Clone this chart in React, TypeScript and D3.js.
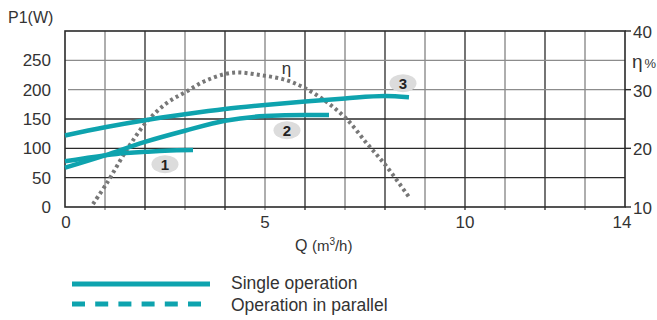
import React from 'react'
import * as d3 from 'd3'

// tick labels
const qTicks = [0, 5, 10, 14]
const pTicks = [0, 50, 100, 150, 200, 250]
const etaTicks = [10, 20, 30, 40]

// power curves P1 (W) against Q (m3/h)
const curve1Q = [0, 0.5, 1, 1.5, 2, 2.5, 3.2]
const curve1P = [78, 83, 88, 92, 94, 96, 97]
const curve2Q = [0, 1, 2, 3, 4, 5, 6, 6.6]
const curve2P = [67, 88, 111, 130, 147, 155, 157, 157]
const curve3Q = [0, 1, 2, 3, 4, 5, 6, 7, 8, 8.6]
const curve3P = [122, 136, 148, 158, 167, 174, 180, 185, 189, 187]

// efficiency curve (%)
const etaQ = [0.7, 1.04, 1.54, 2.04, 2.54, 3.04, 3.54, 4.2, 4.875, 5.54, 6.04, 6.54, 7.04, 7.54, 8.04, 8.6]
const etaV = [10.5, 14, 19.7, 24.5, 27.7, 29.7, 31.6, 32.9, 32.5, 31.6, 30.1, 27.9, 25, 20.9, 16.9, 11.7]

// curve number badges
const badgeNames = ['1', '2', '3']
const badgeQ = [2.5, 5.55, 8.45]
const badgeP = [73, 131, 211]

const legendNames = ['Single operation', 'Operation in parallel']

const teal = '#0ea3ae'
const ink = '#333'
const font = '"Liberation Sans", Arial, sans-serif'

export default function App() {
  const x = d3.scaleLinear().domain([0, 14]).range([65, 625])
  const yP = d3.scaleLinear().domain([0, 300]).range([207, 31])
  const yE = d3.scaleLinear().domain([10, 40]).range([207, 31])

  const powerLine = d3.line<[number, number]>()
    .x(d => x(d[0]))
    .y(d => yP(d[1]))
    .curve(d3.curveMonotoneX)
  const etaLine = d3.line<[number, number]>()
    .x(d => x(d[0]))
    .y(d => yE(d[1]))
    .curve(d3.curveCatmullRom)

  const curves = [
    d3.zip(curve1Q, curve1P),
    d3.zip(curve2Q, curve2P),
    d3.zip(curve3Q, curve3P),
  ] as [number, number][][]
  const eta = d3.zip(etaQ, etaV) as [number, number][]

  const qGrid = d3.range(1, 14)
  const pGrid = d3.range(50, 300, 50)

  return (
    <svg width={657} height={320} style={{ position: 'absolute', left: 0, top: 0 }} fontFamily={font}>
      {/* grid */}
      {qGrid.map(q => (
        <line key={'v' + q} x1={x(q)} x2={x(q)} y1={yP(300)} y2={yP(0) + 3}
          stroke={q % 2 === 0 ? '#3a3a3a' : '#8c8c8c'} strokeWidth={1.4} />
      ))}
      {pGrid.map(p => (
        <line key={'h' + p} x1={p === 200 ? x(0) + 3 : x(0)} x2={x(14)} y1={yP(p)} y2={yP(p)}
          stroke={p >= 200 ? '#8c8c8c' : '#2a2a2a'} strokeWidth={1.4} />
      ))}
      <rect x={x(0)} y={yP(300)} width={x(14) - x(0)} height={yP(0) - yP(300)}
        fill="none" stroke="#2a2a2a" strokeWidth={1.6} />
      {etaTicks.map(t => (
        <line key={'rt' + t} x1={x(14)} x2={x(14) + 6} y1={yE(t)} y2={yE(t)} stroke="#2a2a2a" strokeWidth={1.4} />
      ))}

      {/* axis labels */}
      <text x={8} y={23} fontSize={16} fill={ink}>P1(W)</text>
      {pTicks.map(t => (
        <text key={'p' + t} x={51} y={yP(t)} dy="0.36em" textAnchor="end" fontSize={17} fill={ink}>{t}</text>
      ))}
      {qTicks.map(t => (
        <text key={'q' + t} x={t === 14 ? x(t) - 3 : x(t) + (t === 0 ? 1 : 0)} y={228} textAnchor="middle" fontSize={17} fill={ink}>{t}</text>
      ))}
      {etaTicks.map(t => (
        <text key={'e' + t} x={633} y={yE(t) + 1} dy="0.36em" fontSize={17} fill={ink}>{t}</text>
      ))}
      <text x={632} y={68} fill={ink}>
        <tspan fontSize={19}>η</tspan>
        <tspan fontSize={13} dx={2}>%</tspan>
      </text>
      <text x={295} y={251} fill={ink} fontSize={16}>
        Q <tspan fontSize={15}>(m</tspan>
        <tspan fontSize={10} dy={-6}>3</tspan>
        <tspan fontSize={15} dy={6}>/h)</tspan>
      </text>

      {/* efficiency */}
      <path d={etaLine(eta) ?? ''} fill="none" stroke="#777" strokeWidth={4} strokeDasharray="3 3.2" />
      <text x={x(5.42)} y={yE(32.6)} fontSize={17} fill={ink}>η</text>

      {/* power curves */}
      {curves.map((c, i) => (
        <path key={'c' + i} d={powerLine(c) ?? ''} fill="none" stroke={teal} strokeWidth={4.5} strokeLinecap="butt" />
      ))}

      {/* badges */}
      {badgeNames.map((n, i) => (
        <g key={'b' + n} transform={`translate(${x(badgeQ[i])},${yP(badgeP[i])})`}>
          <ellipse rx={13.5} ry={9} fill="#dcdcdc" />
          <text y={0} dy="0.36em" textAnchor="middle" fontSize={15} fontWeight="bold" fill="#222">{n}</text>
        </g>
      ))}

      {/* legend */}
      <line x1={72} x2={210} y1={284} y2={284} stroke={teal} strokeWidth={5} />
      <line x1={72} x2={210} y1={304} y2={304} stroke={teal} strokeWidth={5} strokeDasharray="13 10.2" />
      <text x={231} y={289} fontSize={17.5} fill={ink}>{legendNames[0]}</text>
      <text x={231} y={311} fontSize={17.5} fill={ink}>{legendNames[1]}</text>
    </svg>
  )
}
